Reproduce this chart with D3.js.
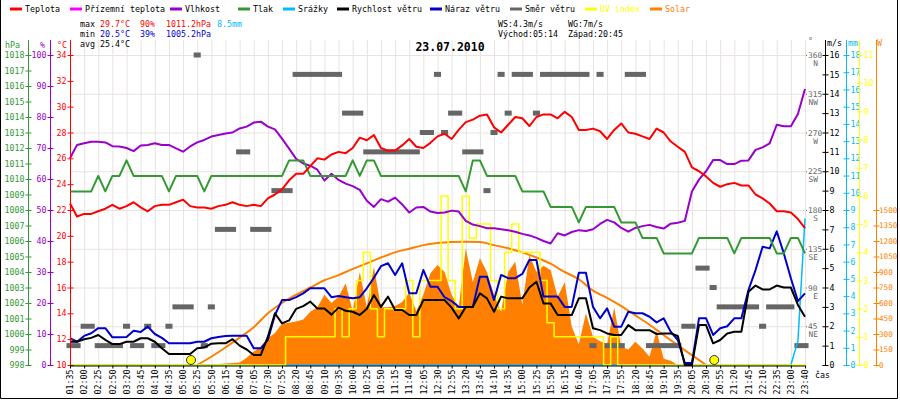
<!DOCTYPE html>
<html>
<head>
<meta charset="utf-8">
<script src="https://cdnjs.cloudflare.com/ajax/libs/d3/7.8.5/d3.min.js"></script>
<style>
body{margin:0;background:#fff;}
svg text{font-family:"DejaVu Sans Mono",monospace;font-size:8.3px;}
</style>
</head>
<body>
<div id="chart"></div>
<script>
"use strict";

//********************************* DATA *********************************
//Time labels, one per 5 samples (the station skips a few samples, so they are not evenly timed)
var timeLabels = ["01:35","02:00","02:25","02:50","03:20","03:45","04:10","04:35","05:00","05:25",
	"05:50","06:15","06:40","07:05","07:30","07:55","08:20","08:45","09:10","09:35",
	"10:00","10:25","10:50","11:15","11:40","12:05","12:30","12:55","13:20","13:45",
	"14:10","14:35","15:00","15:25","15:50","16:15","16:40","17:05","17:30","17:55",
	"18:20","18:45","19:10","19:35","20:05","20:30","20:55","21:20","21:45","22:10",
	"22:35","23:00","23:40"];

//Series below are read every half label step (105 values, index / 2 = label index)
var temperature = [22.5,21.5,21.7,21.7,21.9,22.1,22.4,22.1,22.3,22.6,
	22.2,21.9,22.3,22.4,22.4,22.6,22.8,22.3,22.2,22.2,
	22.1,22.3,22.4,22.6,22.4,22.3,22.4,22.3,22.9,23.2,
	23.6,24.3,24.8,24.8,25.4,26.0,25.9,26.3,26.5,26.4,
	26.8,27.6,27.4,27.8,26.8,26.6,26.6,27.0,27.5,26.9,
	26.8,27.2,27.7,27.9,27.5,28.2,28.8,29.0,29.3,29.4,
	28.4,28.0,28.6,29.2,29.1,28.5,29.2,29.4,29.4,29.1,
	29.6,29.2,28.2,28.2,28.3,28.1,27.5,28.2,28.7,28.0,
	27.9,27.7,27.5,28.3,28.0,27.3,26.9,26.5,25.3,25.0,
	24.6,24.1,23.8,24.0,24.1,23.9,23.9,23.2,22.9,22.5,
	21.9,21.9,21.8,21.3,20.6];

var humidity = [66.7,71.0,71.5,72.0,72.0,71.8,70.6,70.5,70.0,69.0,
	70.8,71.0,71.5,71.0,71.0,69.9,68.8,70.5,71.8,72.6,
	73.7,74.2,74.7,75.0,76.3,76.9,78.2,78.5,76.9,76.0,
	73.0,69.8,66.5,65.0,64.3,63.0,59.5,61.7,59.7,58.5,
	57.7,56.5,53.0,51.0,53.5,52.7,54.0,51.8,49.2,50.8,
	51.0,49.5,49.0,49.2,49.8,49.5,46.5,45.3,44.8,44.1,
	44.1,43.8,43.5,43.0,42.3,41.8,41.0,40.0,39.2,42.5,
	41.8,42.9,43.5,43.2,43.8,45.5,46.8,46.0,44.2,43.0,
	44.2,44.8,45.2,44.5,44.0,45.6,45.9,46.5,56.0,59.8,
	62.5,66.1,66.1,64.8,64.8,65.9,66.0,69.4,70.2,71.5,
	77.5,77.0,77.0,81.0,89.0];

var pressure = [1009.2,1009.2,1009.2,1009.2,1010.2,1009.2,1010.2,1010.2,1011.2,1010.2,
	1010.2,1010.2,1010.2,1010.2,1009.2,1010.2,1010.2,1010.2,1010.2,1009.2,
	1010.2,1010.2,1010.2,1010.2,1010.2,1010.2,1010.2,1010.2,1010.2,1010.2,
	1010.2,1011.2,1011.2,1011.2,1010.2,1010.2,1010.2,1010.2,1010.2,1010.2,
	1011.2,1010.2,1011.2,1011.2,1010.2,1010.2,1010.2,1010.2,1010.2,1010.2,
	1010.2,1010.2,1010.2,1010.2,1010.2,1010.2,1009.2,1011.2,1011.2,1010.2,
	1010.2,1010.2,1010.2,1010.2,1009.2,1009.2,1009.2,1009.2,1008.2,1008.2,
	1008.2,1008.2,1007.2,1008.2,1008.2,1008.2,1008.2,1008.2,1007.2,1007.2,
	1007.2,1006.2,1006.2,1006.2,1005.2,1005.2,1005.2,1005.2,1005.2,1006.2,
	1006.2,1006.2,1006.2,1006.2,1005.2,1006.2,1006.2,1006.2,1006.2,1006.2,
	1005.2,1005.2,1006.2,1006.2,1005.2];

var rain = [0,0,0,0,0,0,0,0,0,0, 0,0,0,0,0,0,0,0,0,0,
	0,0,0,0,0,0,0,0,0,0, 0,0,0,0,0,0,0,0,0,0,
	0,0,0,0,0,0,0,0,0,0, 0,0,0,0,0,0,0,0,0,0,
	0,0,0,0,0,0,0,0,0,0, 0,0,0,0,0,0,0,0,0,0,
	0,0,0,0,0,0,0,0,0,0, 0,0,0,0,0,0,0,0,0,0,
	0,0,0,1.4,8.5];

var windSpeed = [1.2,1.2,1.33,1.4,1.55,1.3,1.08,1.08,1.2,1.2,
	1.38,1.38,1.2,0.86,0.57,0.57,0.57,0.57,0.86,0.9,
	1.1,1.12,1.12,1.33,1.0,0.8,0.52,0.52,1.46,2.67,
	2.15,2.3,2.9,3.04,3.27,2.92,2.92,2.6,2.96,2.8,
	2.75,2.58,2.9,3.61,3.0,3.53,2.84,2.84,2.58,2.58,
	3.35,3.35,3.35,3.35,2.96,2.4,3.0,3.0,3.7,3.44,
	2.75,3.53,3.44,3.44,3.44,4.0,4.3,3.18,3.18,2.58,
	2.58,2.58,3.44,3.44,1.9,1.8,1.63,1.55,1.55,2.06,
	1.8,1.8,1.8,1.6,1.63,1.63,1.5,0,0,2.06,
	2.06,1.12,1.29,1.63,1.72,1.72,3.78,4.1,3.9,3.9,
	4.1,4.0,4.0,3.1,2.49];

var windGust = [1.38,1.2,1.5,1.64,1.9,1.9,1.43,1.43,1.45,1.77,
	1.7,1.98,1.6,1.4,1.12,1.12,1.12,1.12,1.2,1.2,
	1.38,1.45,1.5,1.51,1.51,1.51,0.86,0.86,1.3,2.58,
	3.35,3.35,3.5,3.7,3.96,3.96,3.96,3.5,3.56,3.5,
	3.44,3.5,3.96,4.5,5.1,5.25,4.65,5.25,3.7,3.7,
	4.9,4.04,4.04,3.5,3.3,3.0,3.0,3.0,4.56,4.56,
	3.35,4.65,4.48,4.48,4.7,5.42,5.42,3.53,3.53,3.53,
	3.0,3.0,4.76,4.76,3.0,2.41,2.92,1.98,1.98,2.75,
	2.67,2.67,2.49,2.2,2.41,1.72,1.29,0.1,0.1,2.41,
	2.41,1.55,1.9,2.0,2.41,2.41,3.87,4.9,6.1,6.02,
	6.9,5.76,4.48,3.3,3.7];

var windDir = [22.5,22.5,45,45,22.5,22.5,22.5,22.5,45,22.5,
	22.5,45,22.5,22.5,45,67.5,67.5,67.5,360,22.5,
	67.5,157.5,157.5,157.5,247.5,247.5,157.5,157.5,157.5,202.5,
	202.5,202.5,337.5,337.5,337.5,337.5,337.5,337.5,337.5,292.5,
	292.5,292.5,247.5,247.5,247.5,247.5,247.5,247.5,247.5,247.5,
	270,270,337.5,270,292.5,292.5,247.5,247.5,247.5,202.5,
	270,337.5,292.5,337.5,337.5,337.5,292.5,337.5,337.5,337.5,
	337.5,337.5,337.5,337.5,22.5,337.5,22.5,22.5,22.5,337.5,
	337.5,337.5,22.5,22.5,22.5,22.5,22.5,45,45,112.5,
	112.5,90,67.5,67.5,67.5,67.5,67.5,67.5,45,67.5,
	67.5,67.5,67.5,22.5,22.5];

var uvIndex = [0,0,0,0,0,0,0,0,0,0, 0,0,0,0,0,0,0,0,0,0,
	0,0,0,0,0,0,0,0,0,0, 0,1,1,1,1,1,1,1,2,1,
	2,3,4,2,1,2,2,2,3,1, 3,3,3,6,3,2,6,4.5,5,5,
	3,2,4,5,4,4,4,3,1.5,1, 1,1,1,1,1,1,0,1,0,0,
	0,0,0,0,0,0,0,0,0,0, 0,0,0,0,0,0,0,0,0,0,
	0,0,0,0,0];

var solar = [0,0,0,0,0,0,0,0,0,0, 0,0,0,0,0,0,0,0,0,0,
	5,10,15,20,25,70,130,180,260,310,
	400,410,420,440,516,560,680,600,660,790,
	520,900,560,950,560,560,570,610,700,520,
	680,887,968,900,680,560,1129,800,1032,900,
	680,516,900,1000,580,1064,900,960,920,660,
	800,371,200,500,274,230,200,560,177,150,
	225,160,80,330,60,40,0,0,0,0,
	0,0,0,0,0,0,0,0,0,0, 0,0,0,0,0];

//Clear sky solar curve, one value per label from index 9 to 45
var solarStart = 9;
var solarClear = [0,80,170,265,365,500,600,680,750,820,870,930,984,1040,1090,1125,1160,1180,1190,1193,
	1190,1160,1130,1090,1040,980,900,830,720,650,570,480,390,290,190,95,0];

//Sunrise 05:14 and sunset 20:45 as label index
var sunMarks = [8.56, 45.58];

//Axis ticks
var hpaTicks = [998,999,1000,1001,1002,1003,1004,1005,1006,1007,1008,1009,1010,1011,1012,1013,1014,1015,1016,1017,1018];
var humTicks = [0,10,20,30,40,50,60,70,80,90,100];
var tempTicks = [10,12,14,16,18,20,22,24,26,28,30,32,34];
var msTicks = [0,1,2,3,4,5,6,7,8,9,10,11,12,13,14,15,16];
var mmTicks = [0,1,2,3,4,5,6,7,8,9,10,11,12,13,14,15,16,17,18];
var uvTicks = [0,1,2,3,4,5,6,7,8,9,10,11];
var wTicks = [0,150,300,450,600,750,900,1050,1200,1350,1500];
var degTicks = [45,90,135,180,225,270,315,360];
var compass = ["NE","E","SE","S","SW","W","NW","N"];

//Header texts
var legendNames = ["Teplota","Přízemní teplota","Vlhkost","Tlak","Srážky","Rychlost větru","Náraz větru","Směr větru","UV index","Solar"];
var statMax = ["29.7°C","90%","1011.2hPa","8.5mm"];
var statMin = ["20.5°C","39%","1005.2hPa"];
var statAvg = "25.4°C";
var windInfo = ["WS:4.3m/s","WG:7m/s"];
var sunInfo = ["Východ:05:14","Západ:20:45"];
var title = "23.07.2010";

//********************************* STYLE *********************************
var C = {red:"#ff0000", feel:"#ff00ff", hum:"#9900cc", press:"#339933", rain:"#00bbff",
	wind:"#000000", gust:"#0000cc", dir:"#666666", uv:"#ffff00", solar:"#ff8000",
	grid:"#e8e2e2", minBlue:"#0000dd"};
var legendX = [10,70,170,238,283,337,430,510,585,650];
var legendCol = [C.red,C.feel,C.hum,C.press,C.rain,C.wind,C.gust,C.dir,C.uv,C.solar];

var plotL = 70, plotR = 805, plotT = 55, plotB = 365, axisTop = 40;

var svg = d3.select("#chart").append("svg")
	.attr("width", 900)
	.attr("height", 400);

//********************************* SCALES *********************************
var x = d3.scaleLinear().domain([0, timeLabels.length - 1]).range([plotL, plotR]);
var yT = d3.scaleLinear().domain([10, 34]).range([plotB, plotT]);
var yH = d3.scaleLinear().domain([0, 100]).range([plotB, plotT]);
var yP = d3.scaleLinear().domain([998, 1018]).range([plotB, plotT]);
var yW = d3.scaleLinear().domain([0, 16]).range([plotB, plotT]);
var yD = d3.scaleLinear().domain([0, 360]).range([plotB, plotT]);
var yR = d3.scaleLinear().domain([0, 18]).range([plotB, plotT]);
var yU = d3.scaleLinear().domain([0, 11]).range([plotB, plotT]);
var yS = d3.scaleLinear().domain([0, 3000]).range([plotB, plotT]);

function hx(d, i){ return x(i / 2); }		//half step index -> x
var halfStep = x(0.5) - x(0);

//********************************* GRID *********************************
svg.append("g").selectAll("line")
	.data(timeLabels)
	.enter()
		.append("line")
		.attr("x1", function(d, i){ return x(i) + 0.5; })
		.attr("x2", function(d, i){ return x(i) + 0.5; })
		.attr("y1", axisTop)
		.attr("y2", plotB)
		.attr("stroke", C.grid);

svg.append("g").selectAll("line")
	.data([2,4,6,8,10,12,14,16])
	.enter()
		.append("line")
		.attr("x1", plotL)
		.attr("x2", plotR)
		.attr("y1", function(d){ return yW(d) + 0.5; })
		.attr("y2", function(d){ return yW(d) + 0.5; })
		.attr("stroke", C.grid);

//********************************* SERIES *********************************
svg.append("path")
	.datum(solar)
	.attr("fill", C.solar)
	.attr("d", d3.area().x(hx).y0(plotB).y1(function(d){ return yS(d); }));

svg.append("path")
	.datum(solarClear)
	.attr("fill", "none")
	.attr("stroke", C.solar)
	.attr("stroke-width", 2)
	.attr("d", d3.line()
		.x(function(d, i){ return x(solarStart + i); })
		.y(function(d){ return yS(d); })
		.curve(d3.curveMonotoneX));

//Wind direction: consecutive equal readings are joined into one thick dash
var dirRuns = [];
windDir.forEach(function(d, i){
	var last = dirRuns[dirRuns.length - 1];
	if(last && last.v == d && last.e == i - 1){ last.e = i; }
	else{ dirRuns.push({s: i, e: i, v: d}); }
});
svg.append("g").selectAll("rect")
	.data(dirRuns)
	.enter()
		.append("rect")
		.attr("x", function(d){ return x(d.s / 2) - halfStep / 2; })
		.attr("width", function(d){ return x(d.e / 2) - x(d.s / 2) + halfStep; })
		.attr("y", function(d){ return yD(d.v) - 2.5; })
		.attr("height", 5)
		.attr("fill", C.dir);

function drawLine(data, scale, color, width, curve){
	svg.append("path")
		.datum(data)
		.attr("fill", "none")
		.attr("stroke", color)
		.attr("stroke-width", width)
		.attr("stroke-linejoin", "round")
		.attr("d", d3.line().x(hx).y(function(d){ return scale(d); }).curve(curve || d3.curveLinear));
}

drawLine(rain, yR, C.rain, 1.5);
drawLine(uvIndex, yU, C.uv, 1.5, d3.curveStep);
drawLine(windGust, yW, C.gust, 2);
drawLine(windSpeed, yW, C.wind, 2);
drawLine(humidity, yH, C.hum, 2);
drawLine(pressure, yP, C.press, 2);
drawLine(temperature, yT, C.red, 2);

svg.append("g").selectAll("circle")
	.data(sunMarks)
	.enter()
		.append("circle")
		.attr("cx", function(d){ return x(d); })
		.attr("cy", plotB - 5)
		.attr("r", 4.5)
		.attr("fill", C.uv)
		.attr("stroke", "#333");

//********************************* AXES *********************************
function vAxis(xp, scale, ticks, color, side){
	var ax = (side == "left" ? d3.axisLeft(scale) : d3.axisRight(scale))
		.tickValues(ticks).tickFormat(d3.format("d"))
		.tickSize(3).tickSizeOuter(0).tickPadding(1);
	var g = svg.append("g")
		.attr("transform", "translate(" + (xp + 0.5) + ",0)")
		.attr("color", color)
		.call(ax);
	g.select(".domain").remove();
	g.append("line").attr("y1", axisTop).attr("y2", plotB + 0.5).attr("stroke", color);
	g.selectAll(".tick line").attr("x1", side == "left" ? 3 : -3);
	g.selectAll(".tick text").attr("fill", color);
	return g;
}

vAxis(28, yP, hpaTicks, C.press, "left");
vAxis(50, yH, humTicks, C.hum, "left");
vAxis(70, yT, tempTicks, C.red, "left");
vAxis(825, yW, msTicks, "#000", "right");
vAxis(846, yR, mmTicks, C.rain, "right");
vAxis(859, yU, uvTicks, C.uv, "right");
vAxis(876, yS, wTicks, C.solar, "right")
	.selectAll(".tick text")
		.attr("x", 2.5)
		.style("font-size", "7.6px");

//Direction labels on the right edge of the plot
var dg = svg.append("g").attr("fill", C.dir);
dg.selectAll("rect")
	.data(degTicks)
	.enter()
		.append("rect")
		.attr("x", 806)
		.attr("y", function(d){ return yD(d); })
		.attr("width", 1)
		.attr("height", 1);
dg.selectAll("text.deg")
	.data(degTicks)
	.enter()
		.append("text")
		.attr("class", "deg")
		.attr("x", 808)
		.attr("y", function(d){ return yD(d) + 3; })
		.style("font-size", "7.8px")
		.text(function(d){ return d; });
dg.selectAll("text.cmp")
	.data(degTicks)
	.enter()
		.append("text")
		.attr("class", "cmp")
		.attr("x", 818)
		.attr("y", function(d){ return yD(d) + 11; })
		.attr("text-anchor", "end")
		.style("font-size", "7.8px")
		.text(function(d, i){ return compass[i]; });

//Time axis
var xg = svg.append("g")
	.attr("transform", "translate(0," + (plotB + 0.5) + ")")
	.call(d3.axisBottom(x)
		.tickValues(timeLabels.map(function(d, i){ return i; }))
		.tickFormat(function(i){ return timeLabels[i]; })
		.tickSize(3).tickSizeOuter(0));
xg.selectAll(".tick text")
	.attr("transform", "rotate(-90)")
	.attr("text-anchor", "end")
	.attr("x", -4)
	.attr("y", 0)
	.attr("dy", "0.32em");

//Axis titles
var titles = [["hPa",5,48,C.press],["%",40,48,C.hum],["°C",57,48,C.red],["°",808,44,C.dir],
	["m/s",827,46,"#000"],["mm",848,46,C.rain],["W",877,46,C.solar],["čas",815,378,"#000"]];
svg.append("g").selectAll("text")
	.data(titles)
	.enter()
		.append("text")
		.attr("x", function(d){ return d[1]; })
		.attr("y", function(d){ return d[2]; })
		.attr("fill", function(d){ return d[3]; })
		.text(function(d){ return d[0]; });

//********************************* LEGEND + HEADER *********************************
var lg = svg.append("g");
legendNames.forEach(function(name, i){
	lg.append("line")
		.attr("x1", legendX[i]).attr("x2", legendX[i] + 12)
		.attr("y1", 9).attr("y2", 9)
		.attr("stroke", legendCol[i]).attr("stroke-width", 3);
	lg.append("text")
		.attr("x", legendX[i] + 15).attr("y", 12)
		.attr("fill", i == 8 ? C.uv : (i == 9 ? C.solar : "#000"))
		.text(name);
});

function put(txt, px, py, color){
	svg.append("text").attr("x", px).attr("y", py).attr("fill", color).text(txt);
}
put("max", 80, 27, "#000");
put(statMax[0], 100, 27, C.red);
put(statMax[1], 140, 27, C.red);
put(statMax[2], 166, 27, C.red);
put(statMax[3], 217, 27, C.rain);
put("min", 80, 37, "#000");
put(statMin[0], 100, 37, C.minBlue);
put(statMin[1], 140, 37, C.minBlue);
put(statMin[2], 166, 37, C.minBlue);
put("avg " + statAvg, 80, 47, "#000");
put(windInfo[0], 498, 27, "#000");
put(windInfo[1], 568, 27, "#000");
put(sunInfo[0], 498, 37, "#000");
put(sunInfo[1], 568, 37, "#000");

svg.append("text")
	.attr("x", 450).attr("y", 51)
	.attr("text-anchor", "middle")
	.style("font-size", "11.5px")
	.style("font-weight", "bold")
	.text(title);

//Frame
svg.append("path")
	.attr("d", "M0.5,0 V398.5 H897.5 V0")
	.attr("fill", "none")
	.attr("stroke", "#000");
</script>
</body>
</html>
